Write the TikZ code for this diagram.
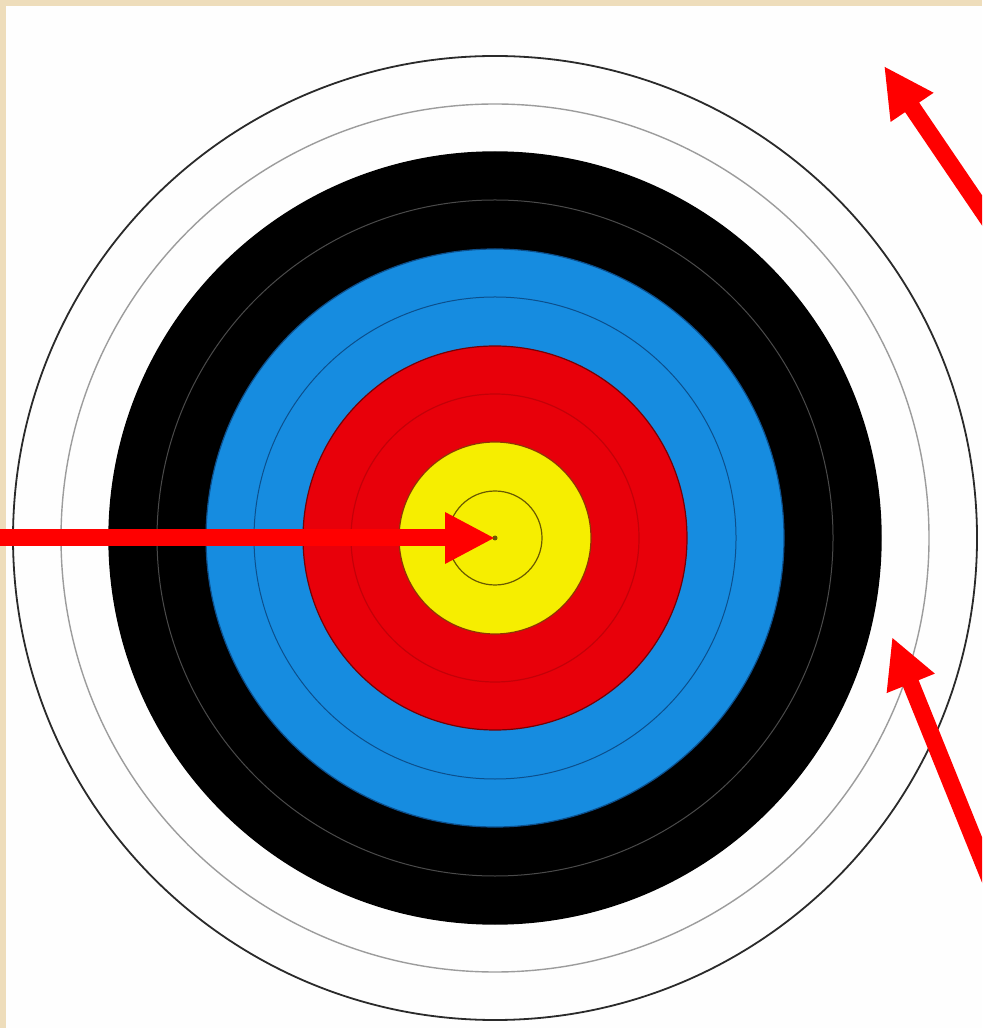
\documentclass[tikz,border=0pt]{standalone}
\usepackage{xcolor}
\usetikzlibrary{arrows.meta}
\definecolor{Parchment}{HTML}{EEDDBB}
\definecolor{Paper}{HTML}{FEFEFE}
\definecolor{Rim}{HTML}{2A2A2A}
\definecolor{RimGray}{HTML}{9C9C9C}
\definecolor{SootLine}{HTML}{4A4A4A}
\definecolor{TargetBlue}{HTML}{168CE0}
\definecolor{BlueLine}{HTML}{0C4F8C}
\definecolor{TargetRed}{HTML}{E8000A}
\definecolor{RedLine}{HTML}{C40008}
\definecolor{TargetYellow}{HTML}{F6EE00}
\definecolor{GoldLine}{HTML}{6A5A00}
\definecolor{ArrowRed}{HTML}{FF0000}

\begin{document}
\begin{tikzpicture}[x=0.1mm,y=-0.1mm,hit/.style={ArrowRed,line width=1.7mm,-{Triangle[length=5mm,width=4.8mm]}}]
\useasboundingbox (0,0) rectangle (982,1028);
\clip (0,0) rectangle (982,1028);
\fill[Parchment] (0,0) rectangle (982,1028);
\fill[Paper] (6,6) rectangle (982,1028);
\coordinate (bull) at (495,538);
% outer white rings
\draw[Rim,line width=0.18mm] (bull) circle (48.2mm);
\draw[RimGray,line width=0.14mm] (bull) circle (43.4mm);
% black, blue, red and gold zones
\filldraw[fill=black,draw=black] (bull) circle (38.6mm);
\draw[SootLine,line width=0.1mm] (bull) circle (33.8mm);
\filldraw[fill=TargetBlue,draw=BlueLine,line width=0.12mm] (bull) circle (28.9mm);
\draw[BlueLine,line width=0.1mm] (bull) circle (24.1mm);
\filldraw[fill=TargetRed,draw=RedLine!60!black,line width=0.12mm] (bull) circle (19.2mm);
\draw[RedLine,line width=0.12mm] (bull) circle (14.4mm);
\filldraw[fill=TargetYellow,draw=GoldLine!60!RedLine,line width=0.12mm] (bull) circle (9.6mm);
\draw[GoldLine,line width=0.12mm] (bull) circle (4.7mm);
\fill[GoldLine] (bull) circle (0.25mm);
% arrows
\coordinate (westend) at (0,538);
\coordinate (rimtip) at (884,66);
\coordinate (rimtail) at (996,231);
\coordinate (gaptip) at (892,637);
\coordinate (gaptail) at (997,897);
\draw[hit] (westend) -- (bull);
\draw[hit] (rimtail) -- (rimtip);
\draw[hit] (gaptail) -- (gaptip);
\end{tikzpicture}
\end{document}
